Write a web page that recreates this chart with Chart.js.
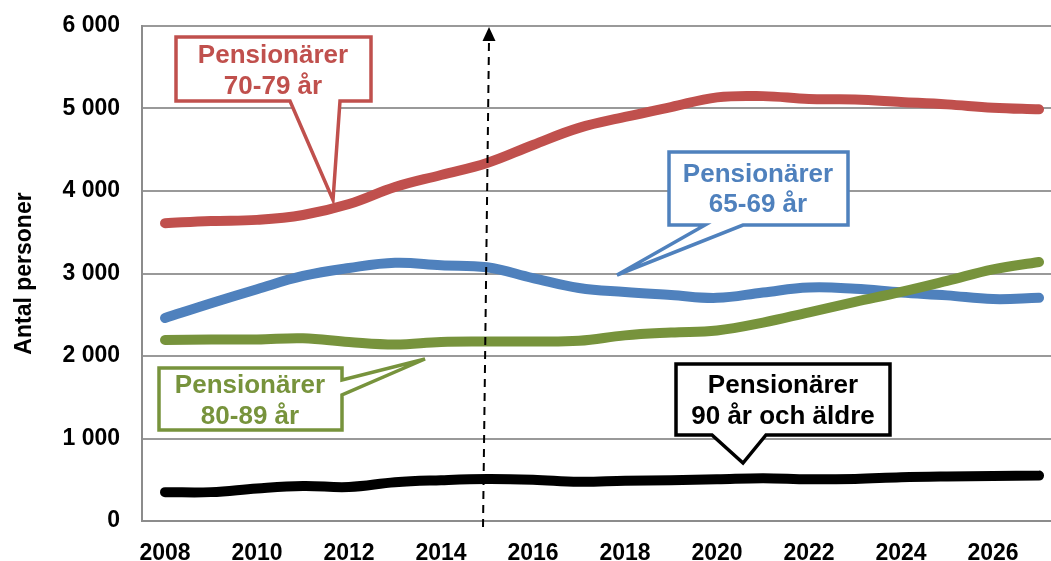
<!DOCTYPE html>
<html>
<head>
<meta charset="utf-8">
<script src="https://cdn.jsdelivr.net/npm/chart.js@4"></script>
<style>
  html, body { margin: 0; padding: 0; background: #fff; }
  #wrap { width: 1051px; height: 561px; }
</style>
</head>
<body>
<div id="wrap"><canvas id="myChart" width="1051" height="561"></canvas></div>
<script>
// Years on the x axis
var years = [2008, 2009, 2010, 2011, 2012, 2013, 2014, 2015, 2016, 2017,
             2018, 2019, 2020, 2021, 2022, 2023, 2024, 2025, 2026, 2027];

// Number of pensioners per age group
var age6569 = [2460, 2640, 2810, 2970, 3067, 3130, 3100, 3075, 2945, 2824,
               2776, 2740, 2705, 2770, 2830, 2815, 2770, 2735, 2690, 2705];
var age7079 = [3610, 3636, 3650, 3709, 3842, 4048, 4194, 4340, 4558, 4765,
               4897, 5018, 5135, 5150, 5115, 5110, 5080, 5050, 5010, 4990];
var age8089 = [2194, 2200, 2200, 2215, 2170, 2140, 2170, 2175, 2175, 2185,
               2250, 2285, 2310, 2405, 2530, 2655, 2776, 2910, 3050, 3140];
var age90 = [350, 350, 395, 424, 412, 470, 495, 509, 500, 475,
             488, 495, 505, 518, 505, 510, 530, 540, 545, 550];

var yTicks = [0, 1000, 2000, 3000, 4000, 5000, 6000];
var xTicks = [2008, 2010, 2012, 2014, 2016, 2018, 2020, 2022, 2024, 2026];
var markerYear = 2015;

function toPoints(values) {
    return values.map(function (v, i) { return { x: years[i], y: v }; });
}

function lineSet(label, values, color) {
    return {
        label: label,
        data: toPoints(values),
        borderColor: color,
        backgroundColor: color,
        borderWidth: 10,
        borderCapStyle: 'round',
        borderJoinStyle: 'round',
        pointRadius: 0,
        tension: 0.4,
        fill: false
    };
}

// callouts: outline polygon and two text lines
var callouts = [
    { color: '#C0504D', cx: 273, lines: ['Pensionärer', '70-79 år'], base: [63, 94],
      path: [[176,37],[371,37],[371,101],[340,101],[333,200],[290,101],[176,101]] },
    { color: '#4F81BD', cx: 758, lines: ['Pensionärer', '65-69 år'], base: [182, 212],
      path: [[669,152],[848,152],[848,225],[743,225],[617,275],[705,225],[669,225]] },
    { color: '#77933C', cx: 250, lines: ['Pensionärer', '80-89 år'], base: [393, 424],
      path: [[159,368],[342,368],[342,380],[425,359],[342,395],[342,430],[159,430]] },
    { color: '#000000', cx: 783, lines: ['Pensionärer', '90 år och äldre'], base: [393, 424],
      path: [[676,364],[890,364],[890,435],[766,435],[743,463],[712,435],[676,435]] }
];

var overlay = {
    id: 'overlay',
    afterDatasetsDraw: function (chart) {
        var ctx = chart.ctx;
        var xs = chart.scales.x;
        var ys = chart.scales.y;
        ctx.save();

        // dashed marker line with arrow
        var xb = xs.getPixelForValue(markerYear) - 4;
        var xt = xs.getPixelForValue(markerYear) + 2;
        var yb = ys.getPixelForValue(0) + 6;
        var yt = ys.getPixelForValue(6000) + 1;
        ctx.strokeStyle = '#000';
        ctx.lineWidth = 2;
        ctx.setLineDash([8, 6]);
        ctx.beginPath();
        ctx.moveTo(xb, yb);
        ctx.lineTo(xt, yt + 12);
        ctx.stroke();
        ctx.setLineDash([]);
        ctx.fillStyle = '#000';
        ctx.beginPath();
        ctx.moveTo(xt, yt);
        ctx.lineTo(xt - 6.5, yt + 14);
        ctx.lineTo(xt + 6.5, yt + 14);
        ctx.closePath();
        ctx.fill();

        // callouts
        callouts.forEach(function (c) {
            ctx.beginPath();
            c.path.forEach(function (p, i) {
                if (i === 0) ctx.moveTo(p[0], p[1]); else ctx.lineTo(p[0], p[1]);
            });
            ctx.closePath();
            ctx.fillStyle = '#fff';
            ctx.fill();
            ctx.lineWidth = 3.5;
            ctx.lineJoin = 'miter';
            ctx.strokeStyle = c.color;
            ctx.stroke();
            ctx.fillStyle = c.color;
            ctx.font = 'bold 26px "Liberation Sans", Arial, sans-serif';
            ctx.textAlign = 'center';
            ctx.textBaseline = 'alphabetic';
            ctx.fillText(c.lines[0], c.cx, c.base[0]);
            ctx.fillText(c.lines[1], c.cx, c.base[1]);
        });
        ctx.restore();
    }
};

var element = document.getElementById('myChart').getContext('2d');

var chartData = {
    datasets: [
        lineSet('Pensionärer 90 år och äldre', age90, '#000000'),
        lineSet('Pensionärer 80-89 år', age8089, '#77933C'),
        lineSet('Pensionärer 65-69 år', age6569, '#4F81BD'),
        lineSet('Pensionärer 70-79 år', age7079, '#C0504D')
    ]
};

var tickFont = { family: '"Liberation Sans", Arial, sans-serif', size: 23, weight: 'bold' };

var chartOptions = {
    responsive: false,
    animation: false,
    layout: { padding: { top: 26, right: 0, bottom: 0, left: 0 } },
    plugins: { legend: { display: false }, tooltip: { enabled: false } },
    scales: {
        x: {
            type: 'linear',
            min: 2007.5,
            max: 2027.26,
            grid: { display: false },
            border: { display: true, color: '#8c8c8c', width: 2 },
            afterBuildTicks: function (axis) {
                axis.ticks = xTicks.map(function (v) { return { value: v }; });
            },
            afterFit: function (axis) {
                axis.height = 40;
                axis.paddingLeft = 0;
                axis.paddingRight = 0;
            },
            ticks: {
                color: '#000',
                font: tickFont,
                padding: 11,
                maxRotation: 0,
                callback: function (v) { return String(v); }
            }
        },
        y: {
            min: 0,
            max: 6000,
            afterBuildTicks: function (axis) {
                axis.ticks = yTicks.map(function (v) { return { value: v }; });
            },
            afterFit: function (axis) {
                axis.width = 142;
                axis.paddingTop = 0;
                axis.paddingBottom = 0;
            },
            grid: { color: '#999999', lineWidth: 2, drawTicks: false },
            border: { display: true, color: '#8c8c8c', width: 2 },
            ticks: {
                color: '#000',
                font: tickFont,
                padding: 22,
                callback: function (v) {
                    return String(v).replace(/\B(?=(\d{3})+(?!\d))/g, ' ');
                }
            },
            title: {
                display: true,
                text: 'Antal personer',
                color: '#000',
                font: { family: '"Liberation Sans", Arial, sans-serif', size: 23, weight: 'bold' },
                padding: { top: 11, bottom: 0 }
            }
        }
    }
};

var chart = new Chart(element, { type: 'line', data: chartData, options: chartOptions, plugins: [overlay] });
</script>
</body>
</html>
